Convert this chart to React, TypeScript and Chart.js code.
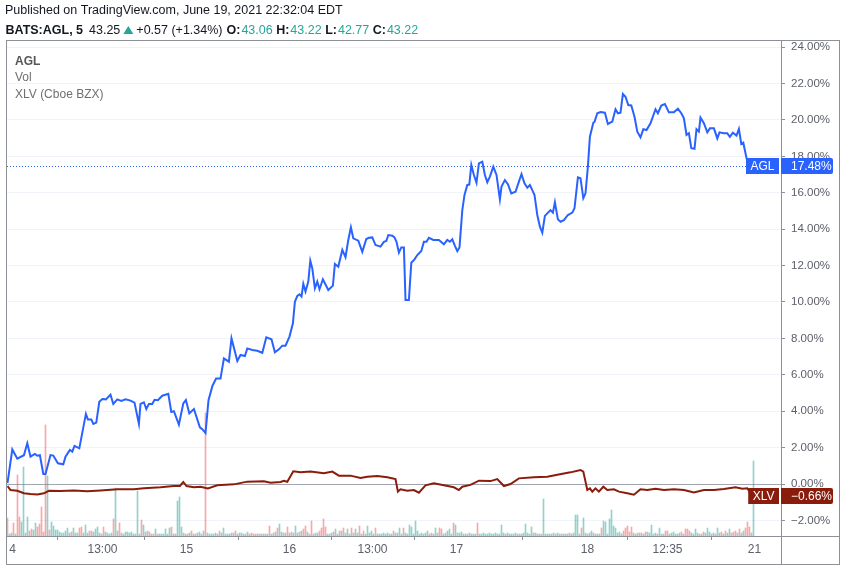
import React, { useEffect, useRef } from 'react';
import { Chart, registerables } from 'chart.js';
Chart.register(...registerables);

// ---- data (x = 5‑minute bar number, y = % change) ----
const aglTime = [0,2.4,4.9,8.2,9.9,11.5,13.7,14.9,16.2,17.9,19,21.5,22.9,25.2,27.9,29,31.2,32.4,33.5,35.9,39.2,40.2,41.9,42.9,44.4,45.9,47.4,49.2,51.5,52.9,54.9,56.9,59,61.5,63.5,65.7,66.5,68.2,69.4,70.7,72.4,73.5,75.2,77.4,80.4,81.9,83.2,85.7,87.9,89.2,90.9,93.2,96.2,97.5,99,100.5,102.5,104.3,106.5,108.2,110.7,112,114.9,116.5,118.7,119.9,122.4,124.9,127.4,129.4,132,133.7,135.7,137.4,139,141,142.7,143.7,144.9,146,147,147.9,149,150.4,151.4,152.4,153.7,154.9,156,157.7,160.4,162.7,163.7,165.4,167.4,169,170.4,171.7,172.9,175.4,177.4,179.4,180.7,182.4,184,186.5,188.2,189.4,190.4,192.4,193.5,194.5,195.7,196.9,198.2,199,200.7,201.9,203.5,204.9,206.9,208.2,209.5,210.7,212.9,215.7,218.2,219.9,221.2,222.4,223.7,224.9,226,227.4,228.5,229.9,230.9,231.9,233.2,234.5,235.7,237.4,238.7,239.9,241.2,242.9,244.5,246.2,247,248.7,250.2,251.9,254,255.7,257,258.5,259.9,261.2,262.4,263.5,264.9,266.2,267.4,268.7,269.9,271.5,272.7,273.7,275.2,276.5,278.2,280.2,282.4,283.5,285.2,286.5,287.9,289,290.2,291.2,292.9,293.5,294.9,296.5,298.7,300.2,302.4,304,305.2,306.5,307.7,309,310.4,311.9,313.5,314.9,316.5,317.9,319.5,321.5,324,325.2,326.9,328.7,330.7,333.2,335.2,336.9,338.2,339.5,340.7,341.9,343.5,344.5,345.7,346.5,348.2,349.9,351.2,353.2,354.9,356,358.2,359.9,361.2,362.7,364.5,365.7,366.9,367.9,369,369.9,371.5];
const aglPct = [0.05,1.9,1.39,1.58,2.24,1.5,1.65,1.55,1.58,0.55,0.55,1.59,1.56,1.14,1.08,1.5,1.87,1.78,2.09,1.96,3.85,3.55,3.55,3.3,3.37,4.52,4.67,4.65,4.91,4.4,4.65,4.56,4.65,4.58,4.47,3.3,4.4,4.49,4.12,4.4,4.4,4.63,4.6,4.85,4.95,3.96,4.0,3.26,4.43,4.62,3.88,4.12,3.11,3.0,2.8,4.6,5.4,5.79,5.79,6.9,6.72,8.0,6.76,7.09,7.03,7.45,7.36,7.32,7.21,8.06,7.95,7.24,7.4,7.6,7.6,8.1,8.83,10.02,10.33,10.42,10.3,11.0,10.57,11.12,12.27,11.85,10.75,11.12,10.7,11.25,10.66,10.9,12.09,11.94,12.86,12.46,13.41,14.1,13.5,13.37,12.76,13.46,13.53,13.55,13.13,13.04,13.3,13.35,13.68,13.64,13.55,13.31,12.71,13.0,13.0,10.11,10.11,12.16,12.34,12.58,12.8,13.31,13.31,13.53,13.41,13.41,13.17,13.41,13.31,13.44,13.08,12.8,13.0,15.05,15.88,16.43,16.45,17.53,16.98,16.55,17.62,17.71,16.98,16.58,16.89,17.44,16.98,15.64,16.34,16.7,16.47,15.97,16.06,16.61,17.02,16.52,16.28,16.43,16.15,15.88,14.78,14.14,13.81,14.73,14.87,15.05,14.91,15.48,14.54,14.41,14.5,14.78,14.91,15.15,16.85,16.8,15.7,15.97,17.44,19.08,19.85,19.9,20.37,20.44,20.4,19.78,19.91,20.59,20.37,20.4,21.43,21.28,20.82,20.8,20.18,19.36,19.05,19.49,19.45,19.82,20.59,20.37,20.79,20.88,20.42,20.42,20.62,20.37,20.09,19.18,19.27,18.45,18.42,19.49,19.36,20.13,19.82,19.32,19.54,19.54,18.99,19.32,19.27,19.27,19.08,19.3,19.14,19.51,18.68,18.75,18.17,17.71,17.48];

const xlvTime = [0,1.5,4.9,8.2,11.5,14.9,18.2,20.7,26.5,33.2,39.9,46.5,54.9,63.2,68.2,76.5,83.2,86.2,87.9,89.5,93.2,96.5,100.2,104.9,113.2,119.9,128.2,131.5,136.5,138.2,139.9,142.9,146.5,151.5,158.2,162.4,165.7,171.5,176.5,179.9,184.9,189.9,194,195.2,196.5,199.9,203.2,205.7,209,213.2,218.2,223.2,225.7,227.4,231.5,235.7,241.5,244.9,248.2,251.5,255.7,263.2,269.9,274.9,281.5,286.5,287.9,289,289.9,291.2,292.4,294,295.7,297.9,299.9,303.2,305.7,309.9,313.2,316.5,319.9,324,328.2,333.2,338.2,343.2,348.2,353.2,358.2,364,367.4,369.9,371,372];
const xlvPct = [-0.11,-0.33,-0.37,-0.51,-0.55,-0.57,-0.51,-0.37,-0.38,-0.36,-0.4,-0.36,-0.29,-0.29,-0.24,-0.18,-0.11,-0.11,0.11,-0.11,-0.18,-0.15,-0.24,-0.07,-0.02,0.13,0.15,0.07,0.11,0.18,0.12,0.7,0.64,0.68,0.59,0.68,0.46,0.46,0.33,0.4,0.44,0.37,0.27,-0.42,-0.29,-0.37,-0.33,-0.48,-0.07,0.04,-0.07,-0.18,-0.33,-0.15,-0.05,0.18,0.16,0.27,-0.11,0.0,0.31,0.37,0.4,0.51,0.64,0.77,0.68,0.13,-0.33,-0.24,-0.42,-0.24,-0.42,-0.15,-0.33,-0.29,-0.42,-0.51,-0.59,-0.29,-0.33,-0.26,-0.33,-0.29,-0.33,-0.46,-0.33,-0.33,-0.27,-0.18,-0.26,-0.24,-0.4,-0.66];

// volume per bar (bar number = index), and bar direction (u = up, d = down)
const volumes = [
  18,2,3,13,2,61,19,14,69,3,
  19,5,7,6,13,9,12,29,4,111,
  60,6,14,10,6,6,4,3,3,5,
  8,3,4,8,3,3,8,9,3,11,
  3,5,5,4,7,9,3,2,9,4,
  3,2,3,17,48,5,13,3,2,4,
  4,3,4,2,2,45,2,16,11,4,
  5,4,2,2,7,2,2,2,2,7,
  2,8,9,2,2,35,39,9,3,2,
  2,3,5,2,2,3,4,2,5,123,
  3,2,2,2,3,2,5,3,8,2,
  2,2,3,3,5,2,3,3,2,2,
  4,2,3,2,2,2,2,2,2,2,
  2,10,2,3,4,8,12,4,3,3,
  9,3,4,3,10,3,4,5,7,10,
  4,2,15,2,3,3,5,8,17,9,
  2,2,3,4,7,2,5,5,8,3,
  7,2,8,3,7,3,10,2,5,2,
  10,3,5,2,8,2,2,2,3,2,
  3,2,2,5,3,3,8,2,8,3,
  2,11,9,2,15,5,2,3,2,3,
  5,2,3,2,8,3,8,7,2,3,
  5,7,2,13,11,3,3,4,2,2,
  2,3,2,2,2,13,2,2,3,2,
  2,3,2,2,3,2,2,11,3,2,
  3,2,2,2,3,2,2,2,3,12,
  3,2,9,3,3,2,2,2,37,2,
  2,2,2,3,2,3,2,2,2,2,
  2,3,2,3,21,21,2,8,18,3,
  2,3,5,3,2,2,2,8,15,14,
  2,17,26,10,8,3,4,2,5,8,
  10,4,9,3,2,3,3,3,2,4,
  4,3,11,2,3,2,8,2,2,5,
  5,2,3,4,2,2,3,4,2,7,
  7,5,3,2,7,3,2,2,4,3,
  8,4,2,3,2,8,3,4,2,5,
  3,7,3,4,5,3,7,3,5,8,
  14,9,3,75,
];
const volDir =
  'duududduuu' + 'udduuddddd' + 'uduuuuuuuu' + 'uuduuudduu' + 'udduuuuddu' +
  'uuuduudduu' + 'uuuuuuuduu' + 'ddududuuuu' + 'uududuuudu' + 'dudduuudud' +
  'uuuuuuduuu' + 'uuudduuuud' + 'uudddududu' + 'udududuuud' + 'duduuududd' +
  'udduuudddd' + 'uuuduududu' + 'uudduududu' + 'uuuuduuuuu' + 'uuuduuuudu' +
  'uuuuuuuuuu' + 'udduuudduu' + 'uuuduuuuuu' + 'duuuuduuuu' + 'uuuuuuuuud' +
  'uuuuuuduuu' + 'uuuuduuduu' + 'uuuduuuduu' + 'uduuuuuduu' + 'duuduuuduu' +
  'uuuuuuuudd' + 'ddduududud' + 'uuuuuduuud' + 'duuuuuudud' + 'dduuuududu' +
  'uuuuduudud' + 'uuddduduud' + 'dduu';

const xTickPos = [2.5, 47.5, 89.5, 141, 182.5, 224.5, 290, 330, 373.5];
const xTickLabels = ['4', '13:00', '15', '16', '13:00', '17', '18', '12:35', '21'];
const yTicks = [-2, 0, 2, 4, 6, 8, 10, 12, 14, 16, 18, 20, 22, 24];

const headerTitle = 'Published on TradingView.com, June 19, 2021 22:32:04 EDT';
const symbolText = 'BATS:AGL, 5';
const lastPrice = '43.25';
const changeText = '+0.57 (+1.34%)';
const ohlcLabels = ['O:', 'H:', 'L:', 'C:'];
const ohlcValues = ['43.06', '43.22', '42.77', '43.22'];
const legendItems = ['AGL', 'Vol', 'XLV (Cboe BZX)'];

const BLUE = '#2962ff';
const RED = '#8a1c0c';
const TEAL = '#26a69a';
const FONT = '"Liberation Sans", Arial, sans-serif';
const AXIS_TXT = '#5d606b';
const FRAME = '#8e9098';

const fmtPct = (v: number) => (v < 0 ? '\u2212' : '') + Math.abs(v).toFixed(2) + '%';

function tagPath(ctx: CanvasRenderingContext2D, x: number, y: number, w: number, h: number, rRight: number) {
  ctx.beginPath();
  ctx.moveTo(x, y);
  ctx.lineTo(x + w - rRight, y);
  ctx.quadraticCurveTo(x + w, y, x + w, y + rRight);
  ctx.lineTo(x + w, y + h - rRight);
  ctx.quadraticCurveTo(x + w, y + h, x + w - rRight, y + h);
  ctx.lineTo(x, y + h);
  ctx.closePath();
}

const overlay = {
  id: 'overlay',
  beforeDatasetsDraw(chart: any) {
    const { ctx, chartArea: ca, scales } = chart;
    const y = scales.y;
    ctx.save();
    const y0 = Math.round(y.getPixelForValue(0)) + 0.5;
    ctx.strokeStyle = '#a3a6af';
    ctx.lineWidth = 1;
    ctx.beginPath();
    ctx.moveTo(ca.left, y0);
    ctx.lineTo(ca.right, y0);
    ctx.stroke();
    const yl = Math.round(y.getPixelForValue(aglPct[aglPct.length - 1])) + 0.5;
    ctx.strokeStyle = BLUE;
    ctx.setLineDash([1, 2]);
    ctx.beginPath();
    ctx.moveTo(ca.left, yl);
    ctx.lineTo(ca.right - 34, yl);
    ctx.stroke();
    ctx.restore();
  },
  afterDraw(chart: any) {
    const { ctx, chartArea: ca, scales } = chart;
    const y = scales.y;
    ctx.save();
    // frame
    ctx.strokeStyle = FRAME;
    ctx.lineWidth = 1;
    const L = ca.left - 0.5, T = ca.top - 0.5;
    const R = ca.right + 58.5, B = ca.bottom + 28.5;
    ctx.strokeRect(L, T, R - L, B - T);
    ctx.beginPath();
    ctx.moveTo(ca.right + 0.5, T);
    ctx.lineTo(ca.right + 0.5, B);
    ctx.moveTo(L, ca.bottom + 0.5);
    ctx.lineTo(R, ca.bottom + 0.5);
    ctx.stroke();

    // header
    ctx.textBaseline = 'alphabetic';
    ctx.textAlign = 'left';
    ctx.fillStyle = '#131722';
    ctx.font = `12.5px ${FONT}`;
    ctx.fillText(headerTitle, 5, 14);
    let x = 5.5;
    const by = 34;
    ctx.font = `bold 12.5px ${FONT}`;
    ctx.fillText(symbolText, x, by);
    x += ctx.measureText(symbolText).width + 6;
    ctx.font = `12.5px ${FONT}`;
    ctx.fillText(lastPrice, x, by);
    x += ctx.measureText(lastPrice).width + 3;
    ctx.fillStyle = TEAL;
    ctx.beginPath();
    ctx.moveTo(x, by);
    ctx.lineTo(x + 10, by);
    ctx.lineTo(x + 5, by - 8);
    ctx.closePath();
    ctx.fill();
    x += 13;
    ctx.fillStyle = '#131722';
    ctx.fillText(changeText, x, by);
    x += ctx.measureText(changeText).width + 4;
    for (let i = 0; i < ohlcLabels.length; i++) {
      ctx.font = `bold 12.5px ${FONT}`;
      ctx.fillStyle = '#131722';
      ctx.fillText(ohlcLabels[i], x, by);
      x += ctx.measureText(ohlcLabels[i]).width + 1;
      ctx.font = `12.5px ${FONT}`;
      ctx.fillStyle = TEAL;
      ctx.fillText(ohlcValues[i], x, by);
      x += ctx.measureText(ohlcValues[i]).width + 3.5;
    }

    // legend
    const legY = [65, 81, 98];
    legendItems.forEach((t, i) => {
      ctx.font = i === 0 ? `bold 12px ${FONT}` : `12px ${FONT}`;
      ctx.fillStyle = i === 0 ? '#555' : '#6f6f6f';
      ctx.fillText(t, 15, legY[i]);
    });

    // last value tags
    const drawTag = (name: string, value: number, color: string) => {
      const cy = Math.round(y.getPixelForValue(value));
      const h = 16;
      ctx.font = `12px ${FONT}`;
      const nw = ctx.measureText(name).width + 9;
      ctx.fillStyle = color;
      ctx.fillRect(ca.right - 2 - nw, cy - h / 2, nw, h);
      tagPath(ctx, ca.right, cy - h / 2, 52, h, 2);
      ctx.fill();
      ctx.fillStyle = '#ffffff';
      ctx.textBaseline = 'middle';
      ctx.textAlign = 'center';
      ctx.fillText(name, ca.right - 2 - nw / 2, cy + 0.5);
      ctx.textAlign = 'left';
      ctx.fillText(fmtPct(value), ca.right + 10, cy + 0.5);
      ctx.textBaseline = 'alphabetic';
    };
    drawTag('AGL', aglPct[aglPct.length - 1], BLUE);
    drawTag('XLV', xlvPct[xlvPct.length - 1], RED);
    ctx.restore();
  },
};

export default function App() {
  const ref = useRef<HTMLCanvasElement | null>(null);
  useEffect(() => {
    document.body.style.margin = '0';
    const canvas = ref.current!;
    const volColors = volumes.map((_, i) => (volDir[i] === 'u' ? 'rgba(38,166,154,0.5)' : 'rgba(239,83,80,0.5)'));
    const chart = new Chart(canvas, {
      type: 'line',
      data: {
        datasets: [
          {
            type: 'line',
            label: 'AGL',
            data: aglTime.map((t, i) => ({ x: t, y: aglPct[i] })),
            borderColor: BLUE,
            borderWidth: 2,
            pointRadius: 0,
            tension: 0,
            order: 1,
            yAxisID: 'y',
          } as any,
          {
            type: 'line',
            label: 'XLV',
            data: xlvTime.map((t, i) => ({ x: t, y: xlvPct[i] })),
            borderColor: RED,
            borderWidth: 2,
            pointRadius: 0,
            tension: 0,
            order: 2,
            yAxisID: 'y',
          } as any,
          {
            type: 'bar',
            label: 'Vol',
            data: volumes.map((v, i) => ({ x: i, y: v })),
            backgroundColor: volColors,
            barThickness: 1,
            order: 3,
            yAxisID: 'vol',
          } as any,
        ],
      },
      options: {
        responsive: false,
        animation: false,
        devicePixelRatio: 1,
        layout: { padding: { left: 7, top: 41, right: 7, bottom: 7 } },
        plugins: { legend: { display: false }, tooltip: { enabled: false } },
        scales: {
          x: {
            type: 'linear',
            min: -0.25,
            max: 386.75,
            offset: false,
            grid: { drawOnChartArea: false, drawTicks: true, tickLength: 4, tickColor: FRAME },
            border: { display: false },
            ticks: {
              autoSkip: false,
              maxRotation: 0,
              color: AXIS_TXT,
              font: { family: FONT, size: 12 },
              padding: 2,
              callback: (_v: any, i: number) => xTickLabels[i],
            },
            afterBuildTicks: (s: any) => {
              s.ticks = xTickPos.map((v) => ({ value: v }));
            },
            afterFit: (s: any) => {
              s.height = 28;
            },
          },
          y: {
            position: 'right',
            min: -2.857,
            max: 24.34,
            grid: { color: '#f0f3fa', tickLength: 4, tickColor: FRAME },
            border: { display: false },
            ticks: {
              color: AXIS_TXT,
              font: { family: FONT, size: 11.5 },
              padding: 6,
              callback: (v: any) => fmtPct(Number(v)),
            },
            afterBuildTicks: (s: any) => {
              s.ticks = yTicks.map((v) => ({ value: v }));
            },
            afterFit: (s: any) => {
              s.width = 58;
            },
          },
          vol: { display: false, min: 0, max: 495 },
        },
      } as any,
      plugins: [overlay],
    });
    return () => chart.destroy();
  }, []);
  return (
    <div style={{ position: 'absolute', left: 0, top: 0, width: 846, height: 571, background: '#fff' }}>
      <canvas ref={ref} width={846} height={571} style={{ display: 'block' }} />
    </div>
  );
}
